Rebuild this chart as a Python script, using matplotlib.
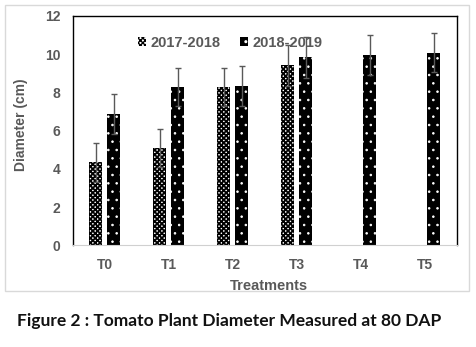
import numpy as np
import matplotlib.pyplot as plt
from matplotlib.patches import Rectangle

# data
treatments = ['T0', 'T1', 'T2', 'T3', 'T4', 'T5']
season1 = [4.35, 5.09, 8.27, 9.42, np.nan, np.nan]   # 2017-2018
season2 = [6.87, 8.27, 8.34, 9.84, 9.96, 10.08]       # 2018-2019
err1 = [1.02, 0.98, 1.0, 1.07, np.nan, np.nan]
err2 = [1.03, 1.0, 1.04, 1.08, 1.03, 1.02]

gray = '#595959'
plt.rcParams['font.family'] = ['Liberation Sans', 'DejaVu Sans']

fig = plt.figure(figsize=(4.76, 3.47), dpi=100)
fig.patches.append(Rectangle((0.0105, 0.1614), 0.975, 0.824, transform=fig.transFigure,
                             fill=False, edgecolor='#d9d9d9', linewidth=1.0))
ax = fig.add_axes([0.1527, 0.2931, 0.8067, 0.6608])

x = np.arange(len(treatments))
w = 0.21
off = 0.14

with plt.rc_context({'hatch.linewidth': 1.3}):
    ax.bar(x - off, season1, w, color='white', edgecolor='black', hatch='xxxxxxx',
           linewidth=0, label='2017-2018')
with plt.rc_context({'hatch.linewidth': 0.6}):
    ax.bar(x + off, season2, w, color='black', edgecolor='white', hatch='..',
           linewidth=0, label='2018-2019')
ax.errorbar(x - off, season1, yerr=err1, fmt='none', ecolor=gray, elinewidth=1, capsize=2.5)
ax.errorbar(x + off, season2, yerr=err2, fmt='none', ecolor=gray, elinewidth=1, capsize=2.5)

ax.set_xlim(-0.5, 5.5)
ax.set_ylim(0, 12)
ax.set_yticks(range(0, 13, 2))
ax.set_xticks(x)
ax.set_xticklabels(treatments)
ax.tick_params(axis='both', length=0, labelsize=10, labelcolor=gray)
ax.tick_params(axis='x', pad=9)
ax.tick_params(axis='y', pad=9)
for lab in ax.get_xticklabels() + ax.get_yticklabels():
    lab.set_fontweight('bold')

for s in ['left', 'top', 'right']:
    ax.spines[s].set_color('black')
    ax.spines[s].set_linewidth(1.0)
ax.spines['bottom'].set_color('#d0d0d0')

fig.text(0.044, 0.64, 'Diameter (cm)', rotation=90, ha='center', va='center',
         fontsize=10, fontweight='bold', color=gray)
fig.text(0.565, 0.176, 'Treatments', ha='center', va='center',
         fontsize=10.5, fontweight='bold', color=gray)

leg = ax.legend(loc='upper center', ncol=2, frameon=False, fontsize=10.5,
                bbox_to_anchor=(0.41, 0.97), handlelength=0.6, handleheight=0.6,
                handletextpad=0.3, columnspacing=1.3)
for t in leg.get_texts():
    t.set_color(gray)
    t.set_fontweight('bold')

fig.text(0.036, 0.06, 'Figure 2 : Tomato Plant Diameter Measured at 80 DAP',
         fontsize=12.5, fontweight='bold', family=['Lato', 'DejaVu Sans'], color='#111111')

fig.savefig('out.png', dpi=100)
